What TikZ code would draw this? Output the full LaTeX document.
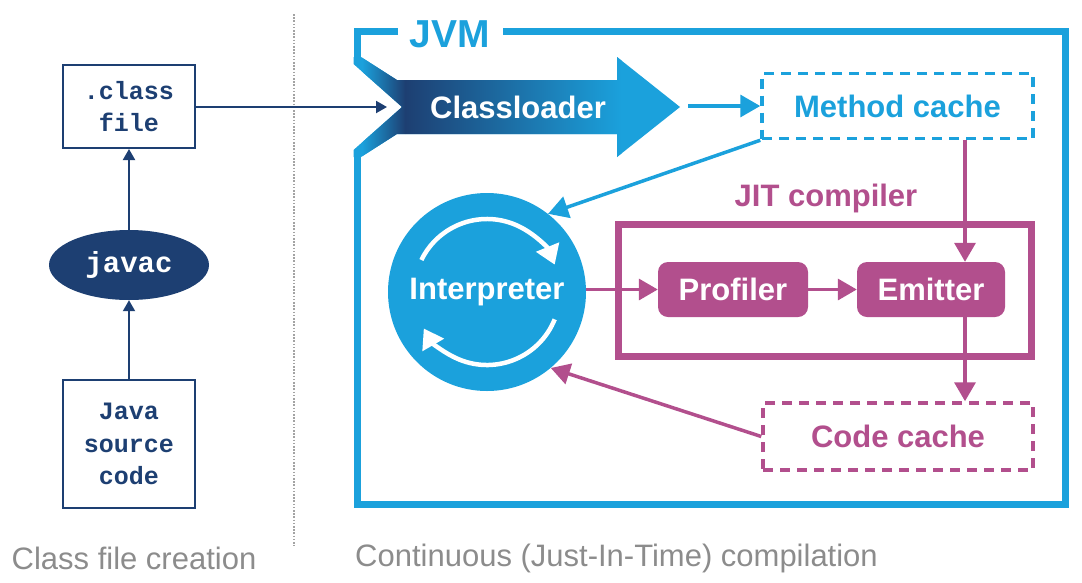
\documentclass[tikz,border=0pt]{standalone}
\usepackage{fontspec}
\setmainfont{Liberation Sans}
\setmonofont{Liberation Mono}
\usetikzlibrary{arrows.meta,shapes.geometric,calc}
\definecolor{navy}{HTML}{1D3F72}
\definecolor{jblue}{HTML}{1BA1DC}
\definecolor{jmag}{HTML}{B24F8D}
\definecolor{lgray}{HTML}{8C8C8C}
\begin{document}
\begin{tikzpicture}[x=1pt,y=-1pt,
  srcbox/.style={draw=navy,line width=2pt,minimum width=132pt,inner sep=0pt,align=center,
    font=\ttfamily\bfseries\fontsize{25}{32.5}\selectfont,text=navy},
  navyarrow/.style={draw=navy,line width=2pt,-{Triangle[length=11pt,width=12pt]}},
  bluearrow/.style={draw=jblue,line width=3.5pt,-{Triangle[length=20pt,width=22pt]}},
  magarrow/.style={draw=jmag,line width=3.5pt,-{Triangle[length=19pt,width=21pt]}},
  bigtext/.style={font=\bfseries\fontsize{31}{36}\selectfont,inner sep=0pt},
  cachebox/.style={line width=3.5pt,dash pattern=on 10pt off 7pt,inner sep=0pt},
  jitstage/.style={fill=jmag,rounded corners=10pt,minimum height=55pt,inner sep=0pt,text=white,bigtext},
  caption/.style={font=\fontsize{31}{36}\selectfont,text=lgray,inner sep=0pt},
  loop/.style={draw=white,line width=4.5pt,-{Triangle[length=19pt,width=24pt]}}
]
\useasboundingbox (0,0) rectangle (1082,582);

% ---- left part: class file creation ----
\node[srcbox,minimum height=83pt] (cls) at (129,106.5) {.class\\file};
\node[ellipse,fill=navy,minimum width=160pt,minimum height=70pt,inner sep=0pt,text=white,
  font=\ttfamily\bfseries\fontsize{29}{32}\selectfont] (javac) at (129,265) {javac};
\node[srcbox,minimum height=128pt] (src) at (129,444) {Java\\source\\code};
\draw[navyarrow] (src.north) -- (javac.south);
\draw[navyarrow] (javac.north) -- (cls.south);

% divider
\draw[lgray!80,line width=1.6pt,dash pattern=on 1.6pt off 1.6pt] (294,14) -- (294,546);

% ---- JVM frame ----
\draw[jblue,line width=7pt] (398,31.5) -- (357,31.5) -- (357,62);
\draw[jblue,line width=7pt] (357,152) -- (357,504) -- (1065,504) -- (1065,31.5) -- (503,31.5);
\node[font=\bfseries\fontsize{39}{40}\selectfont,text=jblue,inner sep=0pt] (jvm) at (450,34) {JVM};

% classloader arrow shape
\begin{scope}
\clip (353.5,57) -- (361,57) -- (397,80) -- (617,80) -- (617,57) -- (680,107) -- (617,157)
  -- (617,134) -- (397,134) -- (361,157) -- (353.5,157) -- (353.5,150) -- (402,107)
  -- (353.5,64) -- cycle;
\fill[jblue] (340,50) rectangle (690,165);
\shade[left color=jblue,right color=navy] (362,50) rectangle (405,165);
\shade[left color=navy,right color=jblue] (405,50) rectangle (622,165);
\end{scope}
\node[bigtext,text=white] (cl) at (518,107) {Classloader};
\coordinate (clin) at (387,107);
\coordinate (clout) at (688,107);
\draw[navyarrow] (cls.east |- clin) -- (clin);

% caches
\node[cachebox,draw=jblue,minimum width=271pt,minimum height=65pt,text=jblue,bigtext] (mc) at (897.5,106) {Method cache};
\node[cachebox,draw=jmag,minimum width=270pt,minimum height=67pt,text=jmag,bigtext] (cc) at (898,436.5) {Code cache};
\draw[bluearrow] (mc.west -| clout) -- (mc.west);

% interpreter
\node[circle,fill=jblue,minimum size=198pt,inner sep=0pt,text=white,bigtext] (interp) at (487,292) {Interpreter};
\draw[loop] (interp.center) ++(-154:73) arc[start angle=-154,end angle=-22,radius=73];
\draw[loop] (interp.center) ++(22:73) arc[start angle=22,end angle=150,radius=73];

% JIT compiler
\node[draw=jmag,line width=7pt,minimum width=413pt,minimum height=132pt,inner sep=0pt] (jit) at (824.5,290) {};
\node[bigtext,text=jmag] (jitl) at (826,198) {JIT compiler};
\node[jitstage,minimum width=150pt] (prof) at (733,289.5) {Profiler};
\node[jitstage,minimum width=148pt] (emit) at (931,289.5) {Emitter};

% connectors
\coordinate (mcout) at (965,0);
\draw[bluearrow] (mc.south west) -- (interp.52);
\draw[magarrow] (interp.east |- prof.west) -- (prof.west);
\draw[magarrow] (prof.east) -- (emit.west);
\draw[magarrow] (mc.south -| mcout) -- (emit.north -| mcout);
\draw[magarrow] (emit.south -| mcout) -- (cc.north -| mcout);
\draw[magarrow] (cc.west) -- (interp.-50);

% captions
\node[caption] (cap1) at (134,558) {Class file creation};
\node[caption,anchor=west] (cap2) at (355,558) {Continuous (Just-In-Time) compilation};
\end{tikzpicture}
\end{document}
